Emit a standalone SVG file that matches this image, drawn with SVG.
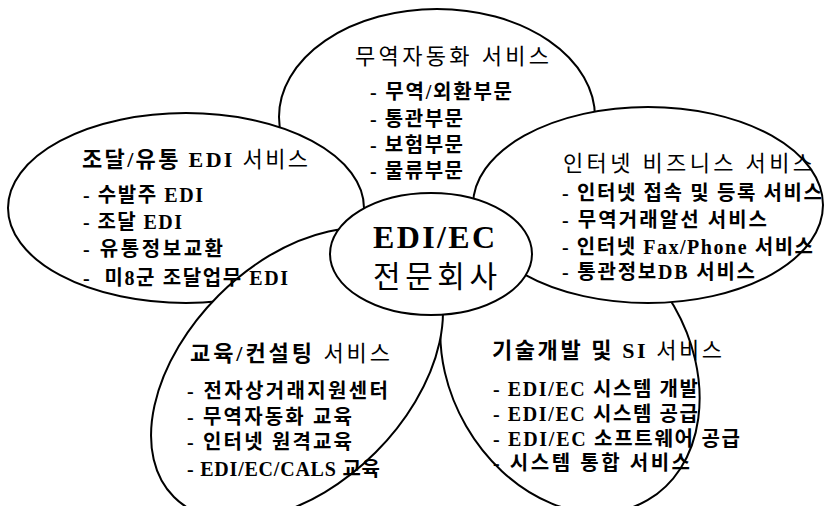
<svg xmlns="http://www.w3.org/2000/svg" xmlns:xlink="http://www.w3.org/1999/xlink" width="824" height="506" viewBox="0 0 824 506">
<style>
.petal{fill:none;stroke:#000;stroke-width:2}
.t{font-family:"Liberation Serif","Noto Sans CJK KR",serif;fill:#000}
.title{font-size:22px;font-weight:normal}
.item{font-size:20px;font-weight:bold}
.b{font-weight:bold}
.center1{font-size:32px;font-weight:bold}
.center2{font-size:30px;font-weight:normal}
</style>
<defs>
<ellipse id="e-top" cx="437" cy="117" rx="158" ry="108"/>
<ellipse id="e-left" cx="186" cy="208" rx="178" ry="95"/>
<ellipse id="e-right" cx="648" cy="205" rx="175" ry="98"/>
<ellipse id="e-bl" cx="0" cy="0" rx="174" ry="111" transform="translate(297 374) rotate(-45)"/>
<ellipse id="e-br" cx="0" cy="0" rx="155" ry="120" transform="translate(570 366) rotate(60)"/>
<ellipse id="e-center" cx="431" cy="254" rx="101" ry="61"/>
<mask id="m-top" maskUnits="userSpaceOnUse" x="0" y="0" width="824" height="506">
<rect width="824" height="506" fill="#fff"/>
<use xlink:href="#e-left" fill="#000"/><use xlink:href="#e-right" fill="#000"/><use xlink:href="#e-center" fill="#000"/>
</mask>
<mask id="m-left" maskUnits="userSpaceOnUse" x="0" y="0" width="824" height="506">
<rect width="824" height="506" fill="#fff"/>
<use xlink:href="#e-bl" fill="#000"/><use xlink:href="#e-center" fill="#000"/>
</mask>
<mask id="m-br" maskUnits="userSpaceOnUse" x="0" y="0" width="824" height="506">
<rect width="824" height="506" fill="#fff"/>
<use xlink:href="#e-right" fill="#000"/><use xlink:href="#e-bl" fill="#000"/><use xlink:href="#e-center" fill="#000"/>
</mask>
<mask id="m-right" maskUnits="userSpaceOnUse" x="0" y="0" width="824" height="506">
<rect width="824" height="506" fill="#fff"/>
<use xlink:href="#e-center" fill="#000"/>
</mask>
<mask id="m-bl" maskUnits="userSpaceOnUse" x="0" y="0" width="824" height="506">
<rect width="824" height="506" fill="#fff"/>
<use xlink:href="#e-center" fill="#000"/>
</mask>
</defs>
<rect width="824" height="506" fill="#fff"/>

<g id="node-trade-automation">
<use xlink:href="#e-top" class="petal" mask="url(#m-top)"/>
<text class="t title" x="355" y="64" textLength="194" lengthAdjust="spacing">무역자동화 서비스</text>
<text class="t item" x="370" y="99" textLength="142" lengthAdjust="spacing">- 무역/외환부문</text>
<text class="t item" x="370" y="126" textLength="93" lengthAdjust="spacing">- 통관부문</text>
<text class="t item" x="370" y="152" textLength="93" lengthAdjust="spacing">- 보험부문</text>
<text class="t item" x="370" y="178" textLength="93" lengthAdjust="spacing">- 물류부문</text>
</g>

<g id="node-procurement-edi">
<use xlink:href="#e-left" class="petal" mask="url(#m-left)"/>
<text class="t title" x="82" y="167" textLength="226" lengthAdjust="spacing"><tspan class="b">조달/유통 EDI</tspan> 서비스</text>
<text class="t item" x="83" y="202" textLength="120" lengthAdjust="spacing">- 수발주 EDI</text>
<text class="t item" x="83" y="229" textLength="99" lengthAdjust="spacing">- 조달 EDI</text>
<text class="t item" x="83" y="256" textLength="140" lengthAdjust="spacing">- 유통정보교환</text>
<text class="t item" x="83" y="285" textLength="205" lengthAdjust="spacing" xml:space="preserve">-  미8군 조달업무 EDI</text>
</g>

<g id="node-tech-si">
<use xlink:href="#e-br" class="petal" mask="url(#m-br)"/>
<text class="t title" x="492" y="358" textLength="230" lengthAdjust="spacing"><tspan class="b">기술개발 및 SI</tspan> 서비스</text>
<text class="t item" x="493" y="396" textLength="205" lengthAdjust="spacing">- EDI/EC 시스템 개발</text>
<text class="t item" x="493" y="421" textLength="205" lengthAdjust="spacing">- EDI/EC 시스템 공급</text>
<text class="t item" x="493" y="446" textLength="247" lengthAdjust="spacing">- EDI/EC 소프트웨어 공급</text>
<text class="t item" x="493" y="470" textLength="197" lengthAdjust="spacing">- 시스템 통합 서비스</text>
</g>

<g id="node-internet-business">
<use xlink:href="#e-right" class="petal" mask="url(#m-right)"/>
<text class="t title" x="563" y="171" textLength="250" lengthAdjust="spacing">인터넷 비즈니스 서비스</text>
<text class="t item" x="562" y="200" textLength="260" lengthAdjust="spacing">- 인터넷 접속 및 등록 서비스</text>
<text class="t item" x="562" y="227" textLength="205" lengthAdjust="spacing">- 무역거래알선 서비스</text>
<text class="t item" x="562" y="254" textLength="251" lengthAdjust="spacing">- 인터넷 Fax/Phone 서비스</text>
<text class="t item" x="562" y="279" textLength="193" lengthAdjust="spacing">- 통관정보DB 서비스</text>
</g>

<g id="node-education">
<use xlink:href="#e-bl" class="petal" mask="url(#m-bl)"/>
<text class="t title" x="190" y="361" textLength="200" lengthAdjust="spacing"><tspan class="b">교육/컨설팅</tspan> 서비스</text>
<text class="t item" x="187" y="398" textLength="201" lengthAdjust="spacing">- 전자상거래지원센터</text>
<text class="t item" x="187" y="424" textLength="165" lengthAdjust="spacing">- 무역자동화 교육</text>
<text class="t item" x="187" y="449" textLength="165" lengthAdjust="spacing">- 인터넷 원격교육</text>
<text class="t item" x="187" y="476" textLength="193" lengthAdjust="spacing">- EDI/EC/CALS 교육</text>
</g>

<g id="node-center">
<use xlink:href="#e-center" class="petal"/>
<text class="t center1" x="373" y="248" textLength="122" lengthAdjust="spacing">EDI/EC</text>
<text class="t center2" x="373" y="287" textLength="124" lengthAdjust="spacing">전문회사</text>
</g>

<g id="connectors"/>
</svg>
